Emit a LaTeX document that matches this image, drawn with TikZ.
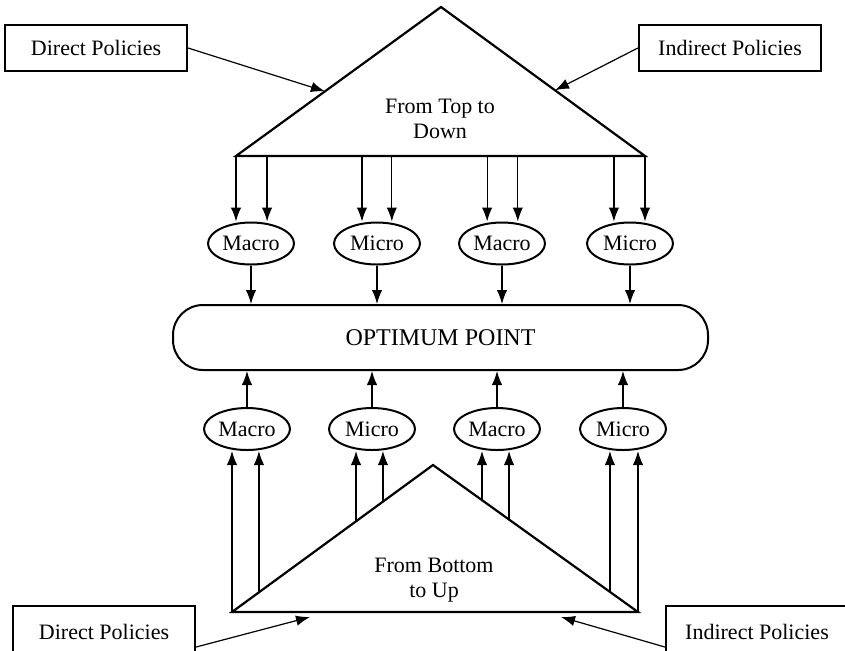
\documentclass[tikz,border=0pt]{standalone}
\usepackage{fontspec}
\setmainfont{Liberation Serif}
\usetikzlibrary{arrows.meta,shapes.geometric,calc}

\begin{document}
\begin{tikzpicture}[x=0.5pt, y=-0.5pt, every node/.style={font=\fontsize{11}{12.5}\selectfont},
    arr/.style={-{Latex[length=7pt,width=5.2pt]}, line width=0.6pt},
    bold/.style={line width=1.1pt},
    policy/.style={draw, bold, minimum width=91pt, minimum height=23pt, inner sep=2pt},
    level/.style={draw, ellipse, line width=1pt, minimum width=43pt, minimum height=21pt, inner sep=0.5pt}]
    \useasboundingbox (0,0) rectangle (845,650);
    \clip (0,0) rectangle (845,650);
    % Top triangle
    \coordinate (tA) at (441,7);
    \coordinate (tL) at (236,156);
    \coordinate (tR) at (645,156);
    \draw[bold] (tL) -- (tA) -- (tR) -- cycle;
    \node[align=center] (ttxt) at (440,119) {From Top to\\Down};
    % Policy boxes (top)
    \node[policy] (dpt) at (96,48) {Direct Policies};
    \node[policy] (ipt) at (730,48) {Indirect Policies};
    \draw[arr] (dpt.east) -- ($(tL)!0.434!(tA)$);
    \draw[arr] (ipt.west) -- ($(tR)!0.441!(tA)$);
    % Optimum point
    \node[draw, line width=1pt, rounded corners=15pt, minimum width=267.5pt, minimum height=32.5pt,
          font=\fontsize{12}{14}\selectfont] (opt) at (440.5,337.5) {OPTIMUM POINT};
    % Top row: Macro / Micro
    \foreach \i/\x/\lbl/\ta/\tb in {1/251/Macro/0/0.076, 2/377/Micro/0.308/0.381,
                                  3/502/Macro/0.614/0.689, 4/630/Micro/0.924/1}{
        \node[level] (mt\i) at (\x,243.5) {\lbl};
        \coordinate (pa) at ($(tL)!\ta!(tR)$);
        \coordinate (pb) at ($(tL)!\tb!(tR)$);
        \draw[arr] (pa) -- (pa |- mt\i.north);
        \draw[arr] (pb) -- (pb |- mt\i.north);
        \draw[arr] (mt\i.south) -- (mt\i.south |- opt.north);
    }
    % Bottom triangle
    \coordinate (bA) at (433,465);
    \coordinate (bL) at (232,612);
    \coordinate (bR) at (638,612);
    \draw[bold] (bL) -- (bA) -- (bR) -- cycle;
    \node[align=center] (btxt) at (434,580) {From Bottom\\to Up};
    % Bottom row: Macro / Micro
    \foreach \i/\x/\lbl/\s/\ta/\tb in {1/247/Macro/L/0/0.134, 2/372/Micro/L/0.617/0.751,
                                     3/497/Macro/R/0.761/0.629, 4/623/Micro/R/0.137/0}{
        \node[level] (mb\i) at (\x,429) {\lbl};
        \coordinate (qa) at ($(b\s)!\ta!(bA)$);
        \coordinate (qb) at ($(b\s)!\tb!(bA)$);
        \draw[arr] (qa) -- (qa |- mb\i.south);
        \draw[arr] (qb) -- (qb |- mb\i.south);
        \draw[arr] (mb\i.north) -- (mb\i.north |- opt.south);
    }
    % Policy boxes (bottom)
    \node[policy, minimum height=26pt] (dpb) at (104,632) {Direct Policies};
    \node[policy, minimum height=26pt] (ipb) at (757,632) {Indirect Policies};
    \coordinate (dtip) at (310,617);
    \coordinate (itip) at (561,617);
    \draw[arr] ([yshift=-7.5pt]dpb.east) -- (dtip);
    \draw[arr] ([yshift=-7.5pt]ipb.west) -- (itip);
\end{tikzpicture}
\end{document}
